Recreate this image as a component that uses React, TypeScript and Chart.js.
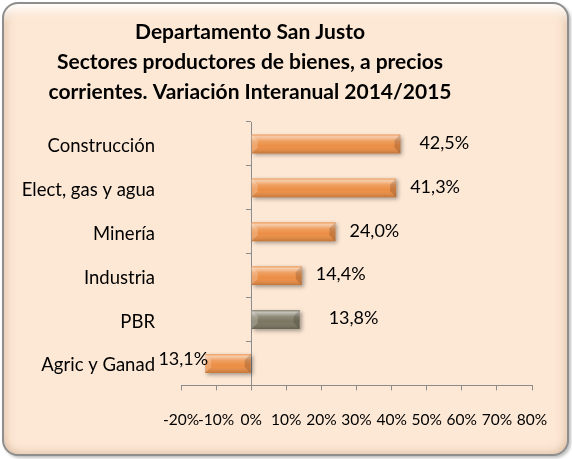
import React, { useEffect, useRef } from "react";
import { Chart, registerables } from "chart.js";

Chart.register(...registerables);

const categories = ["Construcción", "Elect, gas y agua", "Minería", "Industria", "PBR", "Agric y Ganad"];
const values = [42.5, 41.3, 24.0, 14.4, 13.8, -13.1];
const barColors = ["#EC8E44", "#EC8E44", "#EC8E44", "#EC8E44", "#7B7661", "#EC8E44"];
const titleLines = [
  "Departamento San Justo",
  "Sectores productores de bienes, a precios",
  "corrientes. Variación Interanual 2014/2015",
];
const xMin = -20;
const xMax = 80;
const xStep = 10;

const FONT = "Lato, 'Open Sans', sans-serif";

const titleDraw = {
  id: "titleDraw",
  afterDraw(chart: any, _a: any, opts: any) {
    const ctx = chart.ctx;
    ctx.save();
    ctx.font = `bold ${opts.size}px ${FONT}`;
    ctx.fillStyle = "#000";
    ctx.textAlign = "center";
    ctx.textBaseline = "alphabetic";
    titleLines.forEach((line, i) => {
      ctx.fillText(line, opts.cx, opts.y0 + i * opts.lh);
    });
    ctx.restore();
  },
};

const barDecor = {
  id: "barDecor",
  beforeDatasetsDraw(chart: any) {
    const ctx = chart.ctx;
    ctx.save();
    ctx.shadowColor = "rgba(0,0,0,0.35)";
    ctx.shadowBlur = 4;
    ctx.shadowOffsetX = 2;
    ctx.shadowOffsetY = 2;
  },
  afterDatasetsDraw(chart: any, _args: any, opts: any) {
    const ctx = chart.ctx;
    ctx.restore();
    const meta = chart.getDatasetMeta(0);
    const data = chart.data.datasets[0].data as number[];
    meta.data.forEach((bar: any, i: number) => {
      const { x, y, base, height } = bar.getProps(["x", "y", "base", "height"], true);
      const l = Math.min(x, base);
      const r = Math.max(x, base);
      const t = y - height / 2;
      const b = y + height / 2;
      const g = ctx.createLinearGradient(0, t, 0, b);
      g.addColorStop(0, "rgba(255,255,255,0.15)");
      g.addColorStop(0.12, "rgba(255,255,255,0.55)");
      g.addColorStop(0.35, "rgba(255,255,255,0.15)");
      g.addColorStop(0.6, "rgba(255,255,255,0)");
      g.addColorStop(1, "rgba(0,0,0,0.18)");
      ctx.save();
      ctx.fillStyle = g;
      ctx.fillRect(l, t, r - l, b - t);
      const bev = Math.min(6, (r - l) / 4);
      ctx.fillStyle = "rgba(0,0,0,0.15)";
      ctx.beginPath();
      ctx.moveTo(r, t);
      ctx.lineTo(r - bev, t + bev);
      ctx.lineTo(r - bev, b - bev);
      ctx.lineTo(r, b);
      ctx.closePath();
      ctx.fill();
      ctx.fillStyle = "rgba(255,255,255,0.2)";
      ctx.beginPath();
      ctx.moveTo(l, t);
      ctx.lineTo(l + bev, t + bev);
      ctx.lineTo(l + bev, b - bev);
      ctx.lineTo(l, b);
      ctx.closePath();
      ctx.fill();
      ctx.restore();

      const v = data[i];
      const txt = Math.abs(v).toFixed(1).replace(".", ",") + "%";
      ctx.save();
      ctx.font = `${opts.size}px ${FONT}`;
      ctx.fillStyle = "#000";
      ctx.textBaseline = "middle";
      const extra = (opts.nudge && opts.nudge[i]) || 0;
      if (v >= 0) {
        ctx.textAlign = "left";
        ctx.fillText(txt, x + opts.gap + extra, y - 1);
      } else {
        ctx.textAlign = "right";
        ctx.fillText(txt, x + 3, y - 4);
      }
      ctx.restore();
    });
  },
};

export default function App() {
  const ref = useRef<HTMLCanvasElement>(null);
  useEffect(() => {
    if (!ref.current) return;
    const chart = new Chart(ref.current, {
      type: "bar",
      data: {
        labels: categories,
        datasets: [
          {
            data: values,
            backgroundColor: barColors,
            borderWidth: 0,
            barPercentage: 0.43,
            categoryPercentage: 1,
            yAxisID: "y",
          },
        ],
      },
      plugins: [barDecor, titleDraw],
      options: {
        indexAxis: "y",
        responsive: false,
        animation: false,
        devicePixelRatio: 1,
        layout: { padding: { left: 10, right: 40, top: 122, bottom: 10 } },
        plugins: {
          legend: { display: false },
          tooltip: { enabled: false },
          title: { display: false },
          titleDraw: { size: 21, cx: 250, y0: 39, lh: 30 },
          barDecor: { size: 18, gap: 14, nudge: [5, 0, 0, 0, 15, 0] },
        } as any,
        scales: {
          x: {
            type: "linear",
            min: xMin,
            max: xMax,
            position: "bottom",
            grid: {
              display: true,
              drawOnChartArea: false,
              drawTicks: true,
              tickLength: 5,
              color: "#8C8C8C",
            },
            border: { display: true, color: "#8C8C8C", width: 1 },
            ticks: {
              stepSize: xStep,
              autoSkip: false,
              maxRotation: 0,
              padding: 20,
              color: "#000",
              font: { family: FONT, size: 15.5 },
              callback: (v: any) => `${v}%`,
            },
          },
          y: {
            type: "category",
            position: { x: 0 } as any,
            grid: {
              display: true,
              drawOnChartArea: false,
              drawTicks: true,
              tickLength: 5,
              color: "#8C8C8C",
            },
            border: { display: true, color: "#8C8C8C", width: 1 },
            ticks: { display: false },
          },
          yLabels: {
            type: "category",
            position: "left",
            grid: { display: false, drawTicks: false },
            border: { display: false },
            ticks: {
              padding: 26,
              labelOffset: 2,
              color: "#000",
              font: { family: FONT, size: 18.5 },
            },
            afterFit: (scale: any) => {
              scale.width = 171;
            },
          },
        } as any,
      },
    });
    return () => chart.destroy();
  }, []);

  return (
    <div style={{ position: "fixed", left: 0, top: 0, width: 572, height: 459, overflow: "hidden" }}>
      <div
        style={{
          position: "absolute",
          left: 2,
          top: 2,
          width: 567,
          height: 454,
          boxSizing: "border-box",
          border: "2px solid #8E8E8E",
          borderRadius: 16,
          background: "#FDE8D5",
          boxShadow:
            "inset 0 14px 10px -8px rgba(255,255,255,0.95), inset 8px 0 10px -6px rgba(205,170,140,0.55), inset -8px 0 10px -6px rgba(205,170,140,0.55), inset 0 -8px 10px -6px rgba(205,170,140,0.45), 2px 2px 3px rgba(0,0,0,0.25)",
        }}
      />
      <canvas ref={ref} width={572} height={459} style={{ position: "absolute", left: 0, top: 0 }} />
    </div>
  );
}
